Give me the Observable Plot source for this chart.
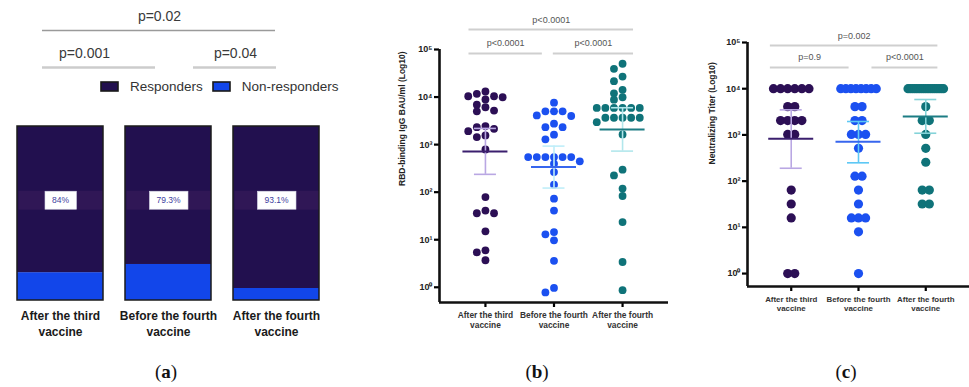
<!DOCTYPE html>
<html>
<head>
<meta charset="utf-8">
<script src="https://cdn.jsdelivr.net/npm/d3@7"></script>
<script src="https://cdn.jsdelivr.net/npm/@observablehq/plot@0.6"></script>
<style>
  html,body{margin:0;padding:0;background:#fff;}
  #wrap{position:relative;width:969px;height:387px;overflow:hidden;background:#fff;}
  #wrap > *{position:absolute;}
  #legA, #legA *{font-family:"Liberation Sans",Arial,sans-serif !important;font-size:13.5px !important;color:#333 !important;}
  #legA span{margin-right:10px !important;}
  #legA svg{margin-right:12px !important;}
  #legA svg rect{stroke:#1a1a1a;stroke-width:1.6px;}
  .plab{font-family:"Liberation Serif","DejaVu Serif",serif;font-size:19px;color:#111;line-height:24px;width:60px;text-align:center;}
</style>
</head>
<body>
<div id="wrap"></div>
<script>
const FONT = '"Liberation Sans", Arial, Helvetica, sans-serif';

// ---------- shared categories ----------
const groups = ["After the third vaccine", "Before the fourth vaccine", "After the fourth vaccine"];
const groupLabels = ["After the third\nvaccine", "Before the fourth\nvaccine", "After the fourth\nvaccine"];

// ---------- panel (a) ----------
const seriesA = ["Non-responders", "Responders"];
const responderPct = [84, 79.3, 93.1];
const pctLabels = ["84%", "79.3%", "93.1%"];
const pLabelsA = ["p=0.001", "p=0.04", "p=0.02"];
const pPairsA = [[0, 1], [1, 2], [0, 2]];
const colorsA = ["#1246ea", "#22104f"];

// ---------- panel (b): RBD-binding IgG (BAU/ml) ----------
const rbdThird = [13100, 11700, 10400, 10400, 9900, 8900, 6900, 6100, 5200, 5000, 2450, 2330, 2150, 1920, 1560, 1440, 790, 79, 41, 36, 36, 15, 6.0, 5.4, 3.7];
const rbdBeforeFourth = [7600, 5000, 5000, 5000, 4100, 4000, 2750, 2330, 2330, 1620, 1290, 546, 546, 546, 546, 546, 546, 446, 397, 264, 144, 73, 41, 14.5, 13, 9.7, 3.6, 0.97, 0.78];
const rbdAfterFourth = [50100, 39300, 27000, 21600, 14200, 12000, 9900, 8800, 5900, 5900, 5900, 5900, 5900, 5900, 3670, 3670, 3670, 3670, 3670, 2960, 1640, 297, 225, 119, 83, 23.5, 3.4, 0.87];
const rbdGeoMean = [720, 337, 2085];
const rbdCILow = [237, 122, 730];
const rbdCIHigh = [2190, 930, 5960];
const pLabelsB = ["p<0.0001", "p<0.0001", "p<0.0001"];
const pPairsB = [[0, 1], [1, 2], [0, 2]];

// ---------- panel (c): neutralizing titer ----------
const ntThird = [10000, 10000, 10000, 10000, 10000, 10000, 4096, 4096, 2048, 2048, 2048, 2048, 1024, 1024, 64, 32, 16, 1, 1];
const ntBeforeFourth = [10000, 10000, 10000, 10000, 10000, 10000, 10000, 10000, 4096, 4096, 2048, 2048, 1024, 1024, 1024, 512, 128, 128, 64, 32, 16, 16, 16, 8, 1];
const ntAfterFourth = [10000, 10000, 10000, 10000, 10000, 10000, 10000, 10000, 10000, 10000, 10000, 10000, 10000, 10000, 10000, 10000, 10000, 4096, 2048, 2048, 1024, 512, 256, 64, 64, 32, 32];
const ntGeoMean = [824, 709, 2500];
const ntCILow = [190, 249, 1088];
const ntCIHigh = [3490, 1950, 5840];
const pLabelsC = ["p=0.9", "p<0.0001", "p=0.002"];
const pPairsC = [[0, 1], [1, 2], [0, 2]];

const logTicks = [1, 10, 100, 1000, 10000, 100000];
const logTickLabels = ["10⁰", "10¹", "10²", "10³", "10⁴", "10⁵"];

const dotColors = ["#2c0f55", "#1b50f0", "#0f7379"];
const meanColors = ["#3b1f6e", "#3766ee", "#1c7d84"];
const ciColorsB = ["#b9a7e3", "#bfeef9", "#b2e7ec"];
const ciColorsC = ["#b9a7e3", "#5ec8f5", "#84d3d9"];

const wrap = document.getElementById("wrap");
function place(node, left, top) {
  node.style.position = "absolute";
  node.style.left = left + "px";
  node.style.top = top + "px";
  wrap.appendChild(node);
  return node;
}

// ---------- layout helpers (point offsets inside a category) ----------
function swarmOffsets(values, pxPerDecade, spacing, minDist) {
  const order = d3.range(values.length).sort((a, b) => values[b] - values[a]);
  const placed = [], off = new Array(values.length);
  for (const i of order) {
    const yy = Math.log10(values[i]) * pxPerDecade;
    for (let k = 0; k < 50; k++) {
      const col = k === 0 ? 0 : (k % 2 ? -Math.ceil(k / 2) : k / 2);
      const ox = col * spacing;
      if (placed.every(p => Math.hypot(p.x - ox, p.y - yy) >= minDist)) {
        off[i] = ox; placed.push({x: ox, y: yy}); break;
      }
    }
  }
  return off;
}
function rowOffsets(values, spacing, maxSpread) {
  const counts = d3.rollup(values, v => v.length, d => d);
  const seen = new Map();
  return values.map(v => {
    const n = counts.get(v), k = seen.get(v) || 0;
    seen.set(v, k + 1);
    const s = n > 1 ? Math.min(spacing, maxSpread / (n - 1)) : 0;
    return (k - (n - 1) / 2) * s;
  });
}

// ---------- panel (a) ----------
const rowsA = groups.flatMap((g, i) => [
  {group: g, series: "Non-responders", value: +(100 - responderPct[i]).toFixed(1)},
  {group: g, series: "Responders", value: responderPct[i]}
]);
const brA = pPairsA.map(([a, b], k) => ({from: groups[a], to: groups[b], label: pLabelsA[k]}));

const plotA = Plot.plot({
  width: 340, height: 345,
  marginTop: 126, marginBottom: 45, marginLeft: 16, marginRight: 20,
  style: {fontFamily: FONT, background: "transparent", overflow: "visible"},
  x: {domain: groups, paddingInner: 0.2, paddingOuter: 0},
  y: {domain: [0, 100], axis: null},
  color: {domain: seriesA, range: colorsA},
  marks: [
    Plot.barY(rowsA, {x: "group", y: "value", fill: "series", order: seriesA}),
    Plot.barY(groups, {x: d => d, y: () => 100, fill: "none", stroke: "#1b1b1b", strokeWidth: 1.5}),
    Plot.text(groups, {x: d => d, text: (d, i) => pctLabels[i], frameAnchor: "middle", dy: -13, fontSize: 8.5, fill: "#3d3d9e"}),
    Plot.axisX({tickFormat: d => groupLabels[groups.indexOf(d)], tickSize: 0, tickPadding: 8, fontSize: 12, fontWeight: "bold", fill: "#1a1a1a", lineHeight: 1.35, label: null}),
    Plot.ruleY([brA[0]], {x1: "from", x2: "to", y: () => 100, dy: -59, insetLeft: 25, insetRight: 56, stroke: "#cccccc", strokeWidth: 2.5}),
    Plot.ruleY([brA[1]], {x1: "from", x2: "to", y: () => 100, dy: -59, insetLeft: 68, insetRight: 43, stroke: "#cccccc", strokeWidth: 2.5}),
    Plot.ruleY([brA[2]], {x1: "from", x2: "to", y: () => 100, dy: -96, insetLeft: 25, insetRight: 44, stroke: "#9a9a9a", strokeWidth: 1.3}),
    Plot.text([brA[0]], {x: "from", y: () => 100, text: "label", dx: 24, dy: -73, fontSize: 14, fill: "#3a3a3a"}),
    Plot.text([brA[1]], {x: "from", y: () => 100, text: "label", dx: 67, dy: -73, fontSize: 14, fill: "#3a3a3a"}),
    Plot.text([brA[2]], {x: "from", y: () => 100, text: "label", dx: 99, dy: -110, fontSize: 14, fill: "#3a3a3a"})
  ]
});
place(plotA, 0, 0);

// highlight band + white label boxes behind the percentages
(function decorateA() {
  const NS = "http://www.w3.org/2000/svg";
  const bw = plotA.scale("x").bandwidth;
  d3.select(plotA).selectAll("text").filter(function () { return /%$/.test(this.textContent); }).each(function () {
    const b = this.getBBox();
    const tr = this.getAttribute("transform");
    const cy = b.y + b.height / 2;
    const band = document.createElementNS(NS, "rect");
    band.setAttribute("x", -bw / 2 + 1); band.setAttribute("width", bw - 2);
    band.setAttribute("y", cy - 9.5); band.setAttribute("height", 19);
    band.setAttribute("fill", "#5a2a6a"); band.setAttribute("fill-opacity", 0.25);
    if (tr) band.setAttribute("transform", tr);
    const box = document.createElementNS(NS, "rect");
    box.setAttribute("x", b.x - 7); box.setAttribute("width", b.width + 14);
    box.setAttribute("y", cy - 9); box.setAttribute("height", 18);
    box.setAttribute("fill", "#fff"); box.setAttribute("stroke", "#d8d8e8"); box.setAttribute("stroke-width", 0.6);
    if (tr) box.setAttribute("transform", tr);
    this.parentNode.insertBefore(band, this);
    this.parentNode.insertBefore(box, this);
  });
})();

// legend (a)
const legA = document.createElement("div");
legA.id = "legA";
legA.appendChild(Plot.legend({color: {domain: ["Responders", "Non-responders"], range: ["#22104f", "#1246ea"]}, legend: "swatches", swatchWidth: 17, swatchHeight: 9}));
place(legA, 101, 70);

// ---------- dot panels (b) and (c) ----------
function dotPanel(o) {
  const innerW = o.width - o.ml - o.mr, innerH = o.height - o.mt - o.mb;
  const pxPerUnit = innerW / (o.xDomain[1] - o.xDomain[0]);
  const pxPerDecade = innerH / (Math.log10(o.yDomain[1]) - Math.log10(o.yDomain[0]));
  const points = o.series.flatMap((vals, gi) => {
    const off = o.layout(vals, pxPerDecade);
    return vals.map((v, j) => ({gi, value: v, xp: gi + off[j] / pxPerUnit}));
  });
  const stats = groups.map((g, gi) => ({gi, mean: o.mean[gi], lo: o.lo[gi], hi: o.hi[gi]}));
  const cap = o.capHalf / pxPerUnit, mh = o.meanHalf / pxPerUnit;
  const last = groups.length - 1;
  const brs = o.pPairs.map(([a, b], k) => ({
    label: o.pLabels[k], level: b - a > 1 ? 1 : 0,
    x1: a - (a === 0 ? o.br.outerL : o.br.innerL),
    x2: b + (b === last ? o.br.outerR : -o.br.innerR)
  }));
  const top = o.yDomain[1];
  const brMarks = [0, 1].flatMap(lv => {
    const d = brs.filter(b => b.level === lv);
    return [
      Plot.ruleY(d, {x1: "x1", x2: "x2", y: () => top, dy: o.br.lineDy[lv], stroke: "#cfcfcf", strokeWidth: 2}),
      Plot.text(d, {x: b => (b.x1 + b.x2) / 2, y: () => top, text: "label", dy: o.br.textDy[lv], fontSize: 9, fill: "#555"})
    ];
  });
  return Plot.plot({
    width: o.width, height: o.height,
    marginTop: o.mt, marginBottom: o.mb, marginLeft: o.ml, marginRight: o.mr,
    style: {fontFamily: FONT, background: "transparent", overflow: "visible"},
    x: {type: "linear", domain: o.xDomain},
    y: {type: "log", domain: o.yDomain},
    color: {type: "identity"},
    marks: [
      Plot.axisY({ticks: logTicks, tickFormat: d => logTickLabels[logTicks.indexOf(d)], tickSize: 5, tickPadding: 2, strokeWidth: 2.2, fontSize: 9, fontWeight: "bold", fill: "#222", label: null}),
      Plot.axisX({ticks: [0, 1, 2], tickFormat: i => groupLabels[i], tickSize: 5, tickPadding: 3, strokeWidth: 2.2, fontSize: o.catFont, fontWeight: "bold", fill: "#333", lineHeight: 1.25, label: null}),
      Plot.ruleX([o.xDomain[0]], {stroke: "#111", strokeWidth: 2.6}),
      Plot.ruleY([o.yDomain[0]], {stroke: "#111", strokeWidth: 2.6}),
      Plot.text([o.yLabel], {frameAnchor: "left", rotate: -90, dx: o.yLabelDx, dy: o.yLabelDy, fontSize: 8.5, fontWeight: "bold", fill: "#222"}),
      Plot.dot(points, {x: "xp", y: "value", r: o.r, fill: d => dotColors[d.gi]}),
      Plot.ruleX(stats, {x: "gi", y1: "lo", y2: "hi", stroke: d => o.ci[d.gi], strokeWidth: 1.6}),
      Plot.ruleY(stats, {y: "lo", x1: d => d.gi - cap, x2: d => d.gi + cap, stroke: d => o.ci[d.gi], strokeWidth: 1.6}),
      Plot.ruleY(stats, {y: "hi", x1: d => d.gi - cap, x2: d => d.gi + cap, stroke: d => o.ci[d.gi], strokeWidth: 1.6}),
      Plot.ruleY(stats, {y: "mean", x1: d => d.gi - mh, x2: d => d.gi + mh, stroke: d => meanColors[d.gi], strokeWidth: 2}),
      ...brMarks
    ]
  });
}

const plotB = dotPanel({
  width: 310, height: 345, mt: 49, mb: 43, ml: 59, mr: 22,
  xDomain: [-0.67, 2.67], yDomain: [10 ** -0.32, 1e5],
  series: [rbdThird, rbdBeforeFourth, rbdAfterFourth],
  layout: (vals, ppd) => swarmOffsets(vals, ppd, 8.6, 6),
  r: 3.9, mean: rbdGeoMean, lo: rbdCILow, hi: rbdCIHigh, ci: ciColorsB,
  capHalf: 11, meanHalf: 22.5,
  pLabels: pLabelsB, pPairs: pPairsB,
  br: {outerL: 0.24, innerL: 0.01, outerR: 0.16, innerR: 0.17, lineDy: [4, -20], textDy: [-6, -29]},
  catFont: 8.4, yLabel: "RBD-binding IgG BAU/ml (Log10)", yLabelDx: -37, yLabelDy: 10
});
place(plotB, 380, 0);

const plotC = dotPanel({
  width: 279, height: 345, mt: 42, mb: 59, ml: 57, mr: 0,
  xDomain: [-0.65, 2.65], yDomain: [10 ** -0.28, 1e5],
  series: [ntThird, ntBeforeFourth, ntAfterFourth],
  layout: vals => rowOffsets(vals, 7.1, 35.5),
  r: 4.6, mean: ntGeoMean, lo: ntCILow, hi: ntCIHigh, ci: ciColorsC,
  capHalf: 11, meanHalf: 22.5,
  pLabels: pLabelsC, pPairs: pPairsC,
  br: {outerL: 0.31, innerL: -0.2, outerR: 0.18, innerR: 0.14, lineDy: [25, 3], textDy: [15, -6]},
  catFont: 7.9, yLabel: "Neutralizing Titer (Log10)", yLabelDx: -35, yLabelDy: 0
});
place(plotC, 690, 0);

// panel letters
[["a", 166], ["b", 537], ["c", 846]].forEach(([l, cx]) => {
  const d = document.createElement("div");
  d.className = "plab";
  d.innerHTML = "(<b>" + l + "</b>)";
  place(d, cx - 30, 360);
});
</script>
</body>
</html>
